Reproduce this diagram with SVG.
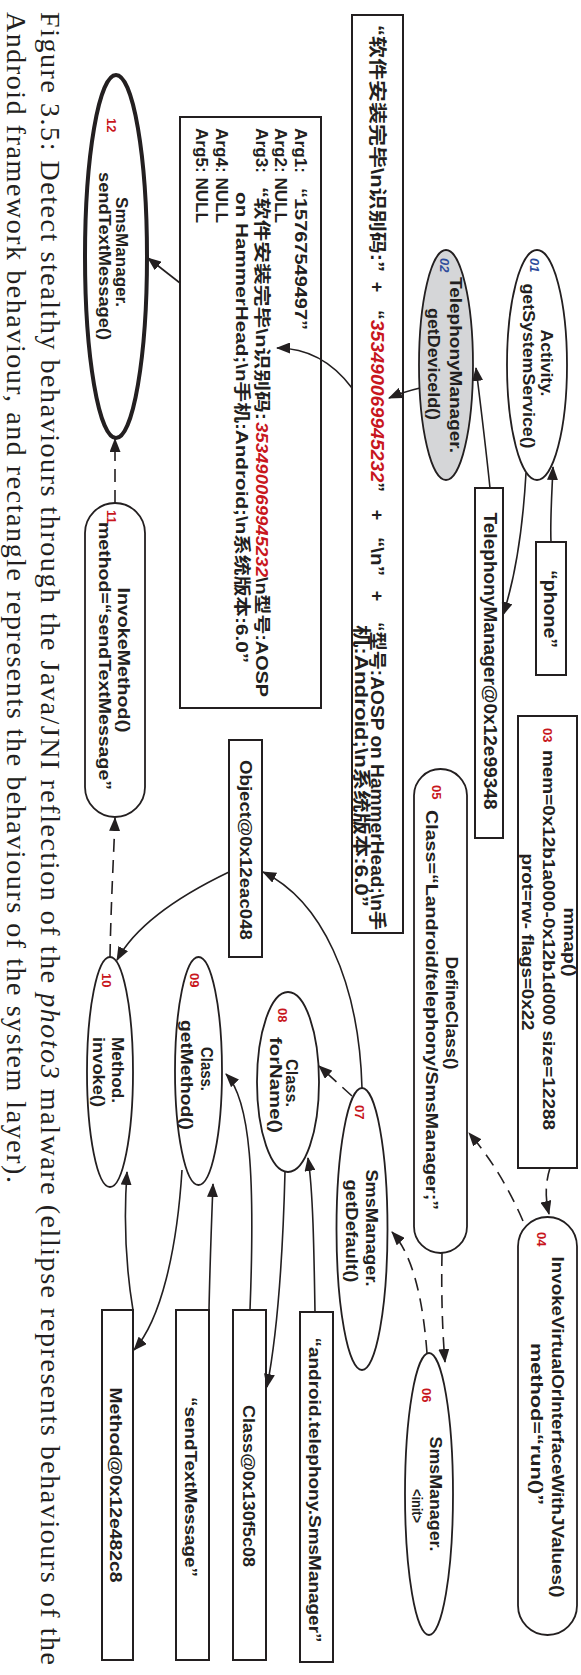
<svg xmlns="http://www.w3.org/2000/svg" width="581" height="1675" viewBox="0 0 581 1675">
  <style>
    .t { font-family: "Liberation Sans", "Noto Sans CJK SC", sans-serif; font-weight: bold; font-size: 17px; fill: #231f20; }
    .box { font-size: 18px; }
    .sm { font-size: 16px; }
    .red { fill: #c8161d; }
    .num { font-family: "Liberation Sans", sans-serif; font-weight: bold; font-size: 13px; fill: #c8161d; }
    .blue { fill: #2e4d9c; font-style: italic; }
    .imei { fill: #c8161d; font-style: italic; }
    .shape { fill: #ffffff; stroke: #231f20; stroke-width: 1.8; }
    .rect { fill: #ffffff; stroke: #231f20; stroke-width: 2; }
    .edge { fill: none; stroke: #231f20; stroke-width: 1.6; marker-end: url(#ah); }
    .dash { stroke-dasharray: 13 8; }
    .cap { font-family: "Liberation Serif", serif; font-size: 28px; fill: #231f20; }
  </style>
  <defs>
    <marker id="ah" viewBox="0 0 14 11" refX="13" refY="5.5" markerWidth="14" markerHeight="11" markerUnits="userSpaceOnUse" orient="auto">
      <path d="M0,0 L14,5.5 L0,11 z" fill="#231f20"/>
    </marker>
  </defs>

  <!-- landscape figure turned a quarter clockwise onto the page -->
  <g transform="translate(581,0) rotate(90)">

    <g id="n01">
      <ellipse class="shape" cx="365" cy="44" rx="115" ry="30"/>
      <text class="num blue" x="258" y="51">01</text>
      <text class="t" x="363" y="40" text-anchor="middle" textLength="67" lengthAdjust="spacingAndGlyphs">Activity.</text>
      <text class="t" x="366" y="58" text-anchor="middle" textLength="165" lengthAdjust="spacingAndGlyphs">getSystemService()</text>
    </g>

    <g id="n02">
      <ellipse class="shape" cx="365" cy="135" rx="115" ry="27" style="fill:#d5d6d8"/>
      <text class="num blue" x="258" y="141">02</text>
      <text class="t" x="365" y="131" text-anchor="middle" textLength="176" lengthAdjust="spacingAndGlyphs">TelephonyManager.</text>
      <text class="t" x="364" y="153" text-anchor="middle" textLength="112" lengthAdjust="spacingAndGlyphs">getDeviceId()</text>
    </g>

    <g id="phone">
      <rect class="rect" x="542" y="15" width="133" height="30"/>
      <text class="t box" x="609" y="37" text-anchor="middle" textLength="78" lengthAdjust="spacingAndGlyphs">“phone”</text>
    </g>

    <g id="tm-object">
      <rect class="rect" x="488" y="78" width="350" height="28"/>
      <text class="t box" x="661" y="97" text-anchor="middle" textLength="297" lengthAdjust="spacingAndGlyphs">TelephonyManager@0x12e99348</text>
    </g>

    <g id="n03">
      <rect class="rect" x="716" y="4" width="452" height="59"/>
      <text class="t sm" x="942" y="17" text-anchor="middle" textLength="69" lengthAdjust="spacingAndGlyphs">mmap()</text>
      <text class="num" x="728" y="38">03</text>
      <text class="t sm" x="750" y="38" textLength="380" lengthAdjust="spacingAndGlyphs">mem=0x12b1a000-0x12b1d000 size=12288</text>
      <text class="t sm" x="942" y="59" text-anchor="middle" textLength="177" lengthAdjust="spacingAndGlyphs">prot=rw- flags=0x22</text>
    </g>

    <g id="n04">
      <rect class="shape" x="1217" y="4" width="418" height="59" rx="29.5"/>
      <text class="num" x="1232" y="44">04</text>
      <text class="t" x="1427" y="29" text-anchor="middle" textLength="341" lengthAdjust="spacingAndGlyphs">InvokeVirtualOrInterfaceWithJValues()</text>
      <text class="t" x="1424" y="50" text-anchor="middle" textLength="162" lengthAdjust="spacingAndGlyphs">method=“run()”</text>
    </g>

    <g id="n05">
      <rect class="shape" x="769" y="114" width="484" height="53" rx="26.5"/>
      <text class="num" x="785" y="149">05</text>
      <text class="t" x="1013" y="135" text-anchor="middle" textLength="113" lengthAdjust="spacingAndGlyphs">DefineClass()</text>
      <text class="t" x="1010" y="155" text-anchor="middle" textLength="400" lengthAdjust="spacingAndGlyphs">Class=“Landroid/telephony/SmsManager;”</text>
    </g>

    <g id="n06">
      <ellipse class="shape" cx="1494" cy="152" rx="141" ry="24"/>
      <text class="num" x="1388" y="159">06</text>
      <text class="t" x="1494" y="151" text-anchor="middle" textLength="115" lengthAdjust="spacingAndGlyphs">SmsManager.</text>
      <text class="t" x="1506" y="169" text-anchor="middle" style="font-size:15px" textLength="34" lengthAdjust="spacingAndGlyphs">&lt;init&gt;</text>
    </g>

    <g id="n07">
      <ellipse class="shape" cx="1229" cy="219" rx="141" ry="25.5"/>
      <text class="num" x="1105" y="226">07</text>
      <text class="t" x="1228" y="215" text-anchor="middle" textLength="117" lengthAdjust="spacingAndGlyphs">SmsManager.</text>
      <text class="t" x="1231" y="235" text-anchor="middle" textLength="103" lengthAdjust="spacingAndGlyphs">getDefault()</text>
    </g>

    <g id="n08">
      <ellipse class="shape" cx="1082" cy="293" rx="90" ry="31"/>
      <text class="num" x="1008" y="303">08</text>
      <text class="t" x="1083" y="295" text-anchor="middle" textLength="48" lengthAdjust="spacingAndGlyphs">Class.</text>
      <text class="t" x="1085" y="311" text-anchor="middle" textLength="96" lengthAdjust="spacingAndGlyphs">forName()</text>
    </g>

    <g id="n09">
      <ellipse class="shape" cx="1071" cy="382.5" rx="114" ry="23.5"/>
      <text class="num" x="973" y="391">09</text>
      <text class="t" x="1069" y="380" text-anchor="middle" textLength="44" lengthAdjust="spacingAndGlyphs">Class.</text>
      <text class="t" x="1075" y="400" text-anchor="middle" textLength="110" lengthAdjust="spacingAndGlyphs">getMethod()</text>
    </g>

    <g id="n10">
      <ellipse class="shape" cx="1072" cy="471" rx="115" ry="23"/>
      <text class="num" x="973" y="479">10</text>
      <text class="t" x="1070" y="469" text-anchor="middle" textLength="66" lengthAdjust="spacingAndGlyphs">Method.</text>
      <text class="t" x="1072" y="488" text-anchor="middle" textLength="70" lengthAdjust="spacingAndGlyphs">invoke()</text>
    </g>

    <g id="n11">
      <rect class="shape" x="503" y="436" width="314" height="60" rx="30"/>
      <text class="num" x="510" y="474">11</text>
      <text class="t" x="660" y="463" text-anchor="middle" textLength="145" lengthAdjust="spacingAndGlyphs">InvokeMethod()</text>
      <text class="t" x="656" y="482" text-anchor="middle" textLength="268" lengthAdjust="spacingAndGlyphs">method=“sendTextMessage”</text>
    </g>

    <g id="n12">
      <ellipse class="shape" cx="256.5" cy="465" rx="181.5" ry="31" style="stroke-width:4"/>
      <text class="num" x="118" y="474">12</text>
      <text class="t" x="252" y="465" text-anchor="middle" textLength="110" lengthAdjust="spacingAndGlyphs">SmsManager.</text>
      <text class="t" x="256" y="482" text-anchor="middle" textLength="168" lengthAdjust="spacingAndGlyphs">sendTextMessage()</text>
    </g>

    <g id="object">
      <rect class="rect" x="740" y="319" width="217" height="33"/>
      <text class="t" x="850" y="341" text-anchor="middle" textLength="180" lengthAdjust="spacingAndGlyphs">Object@0x12eac048</text>
    </g>

    <g id="classname">
      <rect class="rect" x="1312" y="248" width="350" height="33"/>
      <text class="t" x="1490" y="272" text-anchor="middle" textLength="305" lengthAdjust="spacingAndGlyphs">“android.telephony.SmsManager”</text>
    </g>

    <g id="class-object">
      <rect class="rect" x="1310" y="315" width="350" height="33"/>
      <text class="t" x="1486" y="338" text-anchor="middle" textLength="162" lengthAdjust="spacingAndGlyphs">Class@0x130f5c08</text>
    </g>

    <g id="method-name">
      <rect class="rect" x="1310" y="372" width="350" height="33"/>
      <text class="t" x="1487" y="396" text-anchor="middle" textLength="180" lengthAdjust="spacingAndGlyphs">“sendTextMessage”</text>
    </g>

    <g id="method-object">
      <rect class="rect" x="1310" y="448" width="350" height="31"/>
      <text class="t" x="1485" y="471" text-anchor="middle" textLength="195" lengthAdjust="spacingAndGlyphs">Method@0x12e482c8</text>
    </g>

    <g id="message">
      <rect class="rect" x="15" y="178" width="918" height="51"/>
      <text class="t box" x="25" y="210" textLength="247" lengthAdjust="spacingAndGlyphs">“软件安装完毕\n识别码:”</text>
      <text class="t box" x="287" y="210" text-anchor="middle">+</text>
      <text class="t box" x="310" y="210" textLength="182" lengthAdjust="spacingAndGlyphs">“<tspan class="imei">353490069945232</tspan>”</text>
      <text class="t box" x="515" y="210" text-anchor="middle">+</text>
      <text class="t box" x="537" y="210" textLength="39" lengthAdjust="spacingAndGlyphs">“\n”</text>
      <text class="t box" x="596" y="210" text-anchor="middle">+</text>
      <text class="t box" x="622" y="210" textLength="308" lengthAdjust="spacingAndGlyphs">“型号:AOSP on HammerHead;\n手</text>
      <text class="t box" x="625" y="226" textLength="282" lengthAdjust="spacingAndGlyphs">机:Android;\n系统版本:6.0”</text>
    </g>

    <g id="args">
      <rect class="rect" x="117" y="260" width="591" height="141"/>
      <text class="t" x="128" y="286" textLength="45" lengthAdjust="spacingAndGlyphs">Arg1:</text>
      <text class="t" x="188" y="286" textLength="142" lengthAdjust="spacingAndGlyphs">“15767549497”</text>
      <text class="t" x="128" y="306" textLength="95" lengthAdjust="spacingAndGlyphs">Arg2: NULL</text>
      <text class="t" x="128" y="325" textLength="45" lengthAdjust="spacingAndGlyphs">Arg3:</text>
      <text class="t" x="187" y="325" textLength="233" lengthAdjust="spacingAndGlyphs">“软件安装完毕\n识别码:</text>
      <text class="t imei" x="422" y="325" textLength="155" lengthAdjust="spacingAndGlyphs">353490069945232</text>
      <text class="t" x="577" y="325" textLength="120" lengthAdjust="spacingAndGlyphs">\n型号:AOSP</text>
      <text class="t" x="192" y="345" textLength="471" lengthAdjust="spacingAndGlyphs">on HammerHead;\n手机:Android;\n系统版本:6.0”</text>
      <text class="t" x="128" y="365" textLength="95" lengthAdjust="spacingAndGlyphs">Arg4: NULL</text>
      <text class="t" x="128" y="385" textLength="95" lengthAdjust="spacingAndGlyphs">Arg5: NULL</text>
    </g>

    <!-- connectors drawn last so heads reaching inside boxes stay visible -->
    <g id="connectors">
      <path class="edge" d="M542,30 C520,31 492,29 467,28"/>
      <path class="edge" d="M473,55 Q560,60 615,78"/>
      <path class="edge" d="M488,91 C440,96 400,101 368,105"/>
      <path class="edge" d="M388,161 Q392,178 398,192"/>
      <path class="edge" d="M388,229 C360,250 348,275 348,304"/>
      <path class="edge" d="M283,401 L258,433"/>
      <path class="edge dash" d="M503,466 L439,466"/>
      <path class="edge dash" d="M957,471 C900,470 850,467 818,466"/>
      <path class="edge" d="M872,352 C895,400 925,445 960,464"/>
      <path class="edge" d="M1088,219 C980,222 900,260 872,318"/>
      <path class="edge dash" d="M1096,229 L1066,262"/>
      <path class="edge" d="M1312,266 C1250,267 1190,268 1158,273"/>
      <path class="edge" d="M1172,296 C1250,298 1330,303 1387,314"/>
      <path class="edge" d="M1310,331 C1180,326 1100,330 1074,355"/>
      <path class="edge" d="M1310,372 C1260,371 1210,369 1184,368"/>
      <path class="edge" d="M1170,399 C1250,404 1320,420 1350,447"/>
      <path class="edge" d="M1310,448 C1250,458 1200,456 1172,454"/>
      <path class="edge dash" d="M1168,31 Q1190,38 1214,32"/>
      <path class="edge dash" d="M1221,58 Q1170,80 1133,112"/>
      <path class="edge dash" d="M1253,139 C1300,140 1340,138 1362,136"/>
      <path class="edge dash" d="M1353,154 C1300,158 1255,168 1232,189"/>
    </g>

    <g id="caption">
      <text class="cap" x="12" y="540" textLength="1653" lengthAdjust="spacing">Figure 3.5: Detect stealthy behaviours through the Java/JNI reflection of the <tspan font-style="italic">photo3</tspan> malware (ellipse represents behaviours of the</text>
      <text class="cap" x="12" y="574" textLength="1171" lengthAdjust="spacing">Android framework behaviour, and rectangle represents the behaviours of the system layer).</text>
    </g>
  </g>
</svg>
